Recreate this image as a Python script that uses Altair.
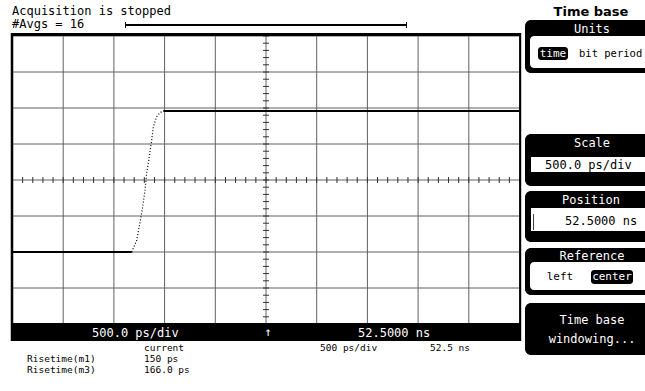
import altair as alt
import pandas as pd

# ---- waveform data (time in ns, vertical in divisions) ----
t_low = [50.0, 51.176]
v_low = [-2.0, -2.0]
t_edge = [51.176, 51.225, 51.257, 51.284, 51.307, 51.323, 51.349, 51.373,
          51.389, 51.422, 51.455, 51.487]
v_edge = [-2.0, -1.67, -1.19, -0.74, -0.28, 0.19, 0.65, 1.11,
          1.48, 1.76, 1.87, 1.92]
t_high = [51.487, 55.0]
v_high = [1.92, 1.92]

# ---- graticule ----
grid_t = [50.0, 50.5, 51.0, 51.5, 52.0, 52.5, 53.0, 53.5, 54.0, 54.5, 55.0]
grid_v = [-4, -3, -2, -1, 0, 1, 2, 3, 4]
minor_t = [round(50 + 0.1 * i, 1) for i in range(51)]
minor_v = [round(-4 + 0.2 * i, 1) for i in range(41)]

# ---- texts ----
status_text = "Acquisition is stopped"
avgs_text = "#Avgs = 16"
bar_scale = "500.0 ps/div"
bar_pos = "52.5000 ns"
meas_header = ["current", "500 ps/div", "52.5 ns"]
meas_names = ["Risetime(m1)", "Risetime(m3)"]
meas_values = ["150 ps", "166.0 ps"]

MONO = "DejaVu Sans Mono"

xs = alt.Scale(domain=[50, 55], range=[12.5, 519.5], nice=False, zero=False)
ys = alt.Scale(domain=[-4, 4], range=[324, 36], nice=False, zero=False)

low_df = pd.DataFrame({"t": t_low, "v": v_low, "part": "low"})
high_df = pd.DataFrame({"t": t_high, "v": v_high, "part": "high"})
flat_df = pd.concat([low_df, high_df])
edge_df = pd.DataFrame({"t": t_edge, "v": v_edge})

X = alt.X("t:Q", scale=xs, axis=None)
Y = alt.Y("v:Q", scale=ys, axis=None)

layers = []

# grid
layers.append(alt.Chart(pd.DataFrame({"t": grid_t})).mark_rule(color="#606060", strokeWidth=1)
              .encode(x=X, y=alt.value(36), y2=alt.value(324)))
layers.append(alt.Chart(pd.DataFrame({"v": grid_v})).mark_rule(color="#606060", strokeWidth=1)
              .encode(y=Y, x=alt.value(12.5), x2=alt.value(519.5)))
# minor ticks on the centre axes
layers.append(alt.Chart(pd.DataFrame({"t": minor_t})).mark_rule(color="#303030", strokeWidth=1)
              .encode(x=X, y=alt.value(177), y2=alt.value(183)))
layers.append(alt.Chart(pd.DataFrame({"v": minor_v})).mark_rule(color="#303030", strokeWidth=1)
              .encode(y=Y, x=alt.value(263), x2=alt.value(269)))

# waveform
layers.append(alt.Chart(flat_df).mark_line(color="black", strokeWidth=2)
              .encode(x=X, y=Y, detail="part:N"))
layers.append(alt.Chart(edge_df).mark_line(color="black", strokeWidth=1.2, strokeDash=[1, 2])
              .encode(x=X, y=Y))


def rule(x1, y1, x2, y2, w=1, color="black"):
    return alt.Chart(pd.DataFrame({"a": [0]})).mark_rule(color=color, strokeWidth=w).encode(
        x=alt.value(x1), x2=alt.value(x2), y=alt.value(y1), y2=alt.value(y2))


def box(x1, y1, x2, y2, color="black", r=0):
    m = alt.Chart(pd.DataFrame({"a": [0]})).mark_rect(color=color, cornerRadius=r) if r else \
        alt.Chart(pd.DataFrame({"a": [0]})).mark_rect(color=color)
    return m.encode(x=alt.value(x1), x2=alt.value(x2), y=alt.value(y1), y2=alt.value(y2))


def label(text, x, y, align="left", color="black", size=12, font=MONO, weight="normal"):
    return alt.Chart(pd.DataFrame({"a": [0]})).mark_text(
        align=align, baseline="middle", font=font, fontSize=size, color=color,
        fontWeight=weight).encode(x=alt.value(x), y=alt.value(y), text=alt.value(text))


# frame
layers.append(rule(11, 34.5, 521, 34.5, 3))
layers.append(rule(12, 33, 12, 341, 2.5))
layers.append(rule(520.2, 33, 520.2, 341, 2))
layers.append(box(11, 323, 521, 341))

# top texts and record bar
layers.append(label(status_text, 12, 11))
layers.append(label(avgs_text, 12, 24))
layers.append(rule(125, 25, 407, 25, 2))
layers.append(rule(125.5, 22, 125.5, 28, 1))
layers.append(rule(406.5, 22, 406.5, 28, 1))

# status bar texts
layers.append(label(bar_scale, 92, 332.5, color="white"))
layers.append(label("\u2191", 268, 332, align="center", color="white"))
layers.append(label(bar_pos, 358, 332.5, color="white"))

# measurement table
MS = 9.5
layers.append(label(meas_header[0], 144, 347.5, size=MS))
layers.append(label(meas_header[1], 320, 347.5, size=MS))
layers.append(label(meas_header[2], 430, 347.5, size=MS))
layers.append(label(meas_names[0], 27, 358.5, size=MS))
layers.append(label(meas_values[0], 144, 358.5, size=MS))
layers.append(label(meas_names[1], 27, 369.5, size=MS))
layers.append(label(meas_values[1], 144, 369.5, size=MS))

# right-hand softkey panels
layers.append(label("Time base", 591, 12, align="center", size=13, font="DejaVu Sans", weight="bold"))
# Units
layers.append(box(525, 20, 655, 73, r=6))
layers.append(label("Units", 592, 28.5, align="center", color="white"))
layers.append(box(530, 36, 655, 68, color="white", r=4))
layers.append(box(538, 47, 568, 60, r=3))
layers.append(label("time", 553, 53.5, align="center", color="white", size=11))
layers.append(label("bit period", 579, 53.5, size=10.5))
# Scale
layers.append(box(525, 134, 655, 186, r=6))
layers.append(label("Scale", 592, 143, align="center", color="white"))
layers.append(box(531, 157, 655, 172, color="white"))
layers.append(label("500.0 ps/div", 545, 165))
# Position
layers.append(box(525, 191, 655, 242, r=6))
layers.append(label("Position", 591, 199.5, align="center", color="white"))
layers.append(box(531, 208, 655, 231, color="white"))
layers.append(rule(533.5, 214, 533.5, 230, 1, color="#404040"))
layers.append(label("52.5000 ns", 565, 221))
# Reference
layers.append(box(525, 248, 655, 295, r=6))
layers.append(label("Reference", 592, 255.5, align="center", color="white"))
layers.append(box(530, 262, 655, 290, color="white", r=4))
layers.append(label("left", 560, 277, align="center", size=11))
layers.append(box(591, 270, 633, 284, r=3))
layers.append(label("center", 612, 277, align="center", color="white", size=11))
# Time base windowing
layers.append(box(525, 303, 655, 355, r=6))
layers.append(label("Time base", 592, 320, align="center", color="white"))
layers.append(label("windowing...", 592, 339, align="center", color="white"))

chart = alt.layer(*layers).properties(
    width=645, height=391, padding=0,
    autosize=alt.AutoSizeParams(type="none"),
    background="white",
).configure_view(stroke=None)

chart.save("out.html", embed_options={"renderer": "svg", "actions": False})
